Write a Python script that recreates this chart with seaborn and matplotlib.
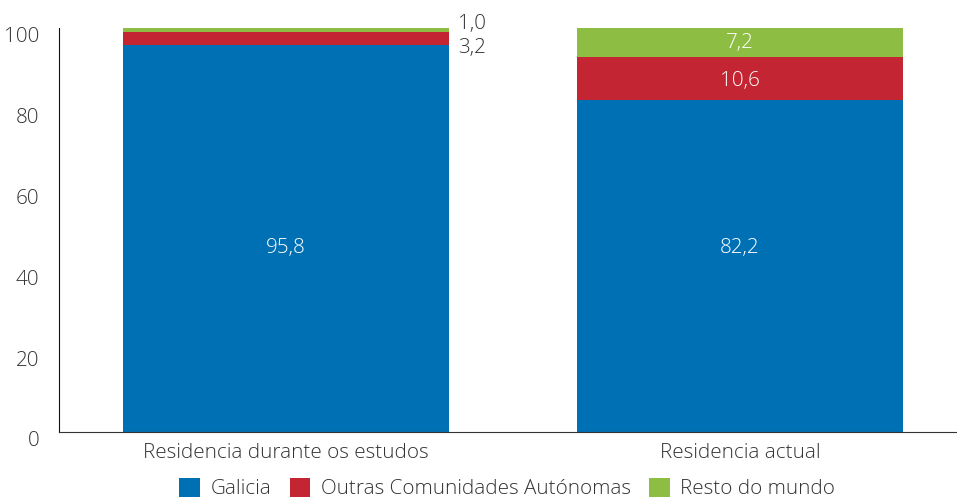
import seaborn as sns
import numpy as np
import pandas as pd
import matplotlib.pyplot as plt
import matplotlib.transforms as mtransforms
from matplotlib.patches import Patch

categories = ['Residencia durante os estudos', 'Residencia actual']
galicia = [95.8, 82.2]
outras = [3.2, 10.6]
resto = [1.0, 7.2]
series = ['Galicia', 'Outras Comunidades Autónomas', 'Resto do mundo']
colors = ['#0070b5', '#c42532', '#8dbd43']

sns.set_style('white')
plt.rcParams['font.family'] = ['Open Sans', 'DejaVu Sans']
plt.rcParams['font.weight'] = 'light'
fs = 14.9
txt = '#333333'

df = pd.DataFrame({'cat': categories, 'Galicia': galicia,
                   'Outras': outras, 'Resto': resto})
df['c1'] = df['Galicia']
df['c2'] = df['c1'] + df['Outras']
df['c3'] = df['c2'] + df['Resto']

fig = plt.figure(figsize=(9.57, 5.03), dpi=100)
ax = fig.add_axes([59/957, 1-432/503, (957-59)/957, (432-28)/503])

# stacked bars drawn as overlapping cumulative totals
for col, c in zip(['c3', 'c2', 'c1'], colors[::-1]):
    sns.barplot(data=df, x='cat', y=col, color=c, width=0.72, ax=ax,
                saturation=1, linewidth=0)

ax.set_ylim(0, 100)
ax.set_xlim(-0.5, 1.478)
ax.set_yticks([0, 20, 40, 60, 80, 100])
ax.set_xlabel('')
ax.set_ylabel('')
ax.tick_params(axis='y', labelsize=fs, colors=txt, length=0, pad=14)
ax.tick_params(axis='x', labelsize=fs, colors=txt, length=0, pad=8)
sns.despine(ax=ax, top=True, right=True)
ax.spines['left'].set_color('#111111')
ax.spines['bottom'].set_color('#333333')

def fmt(v):
    return f'{v:.1f}'.replace('.', ',')

# labels inside (blue labels sit at the same height in both bars)
for i in range(2):
    ax.text(i, 45.6, fmt(galicia[i]), ha='center', va='center',
            color='white', fontsize=fs)
ax.text(1, 86.8, fmt(outras[1]), ha='center', va='center',
        color='white', fontsize=fs)
ax.text(1, 96.2, fmt(resto[1]), ha='center', va='center',
        color='white', fontsize=fs)
# labels outside for the first bar
ax.text(0.378, 95.0, fmt(outras[0]), ha='left', va='center', color=txt, fontsize=fs)
ax.text(0.378, 101.1, fmt(resto[0]), ha='left', va='center', color=txt,
        fontsize=fs, clip_on=False)

handles = [Patch(facecolor=c, edgecolor='none') for c in colors]
fig.legend(handles, series, loc='lower center', ncol=3, frameon=False,
           bbox_to_anchor=(0.53, -0.03), fontsize=fs, handlelength=1.0,
           handleheight=1.0, columnspacing=0.9, handletextpad=0.5,
           labelcolor=txt)

fig.canvas.draw()
shift = mtransforms.ScaledTranslation(0, -7/100, fig.dpi_scale_trans)
for t in ax.yaxis.get_major_ticks():
    t.label1.set_transform(t.label1.get_transform() + shift)

fig.savefig('out.png', dpi=100)
